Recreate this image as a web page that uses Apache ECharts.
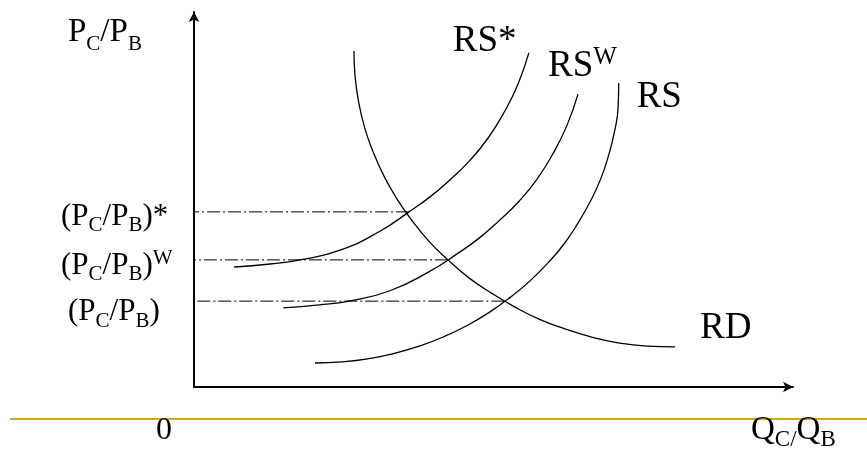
<!DOCTYPE html>
<html>
<head>
<meta charset="utf-8">
<style>
  html, body { margin: 0; padding: 0; background: #fff; }
  #chart { width: 867px; height: 455px; }
</style>
<script src="https://cdn.jsdelivr.net/npm/echarts@6/dist/echarts.min.js"></script>
</head>
<body>
<div id="chart"></div>
<script>
// curve points [Q_C/Q_B, P_C/P_B], axis units 0..100
const rd = [
  [26.7, 89.6], [26.9, 82.7], [27.5, 75.9], [28.5, 69.1], [29.9, 62.7],
  [31.7, 56.3], [33.9, 50.1], [36.1, 45.0], [39.2, 38.9], [42.4, 33.9],
  [45.9, 29.1], [49.6, 25.1], [53.6, 21.3], [57.6, 18.1], [61.9, 15.5],
  [66.4, 13.3], [71.0, 11.7], [75.6, 10.9], [80.3, 10.7]
]
const rsStar = [
  [6.7, 32.0], [12.7, 32.8], [17.7, 33.9], [24.4, 36.5], [31.1, 41.6],
  [35.9, 46.7], [39.4, 50.7], [42.7, 55.2], [46.1, 60.5], [49.1, 66.4],
  [51.9, 73.6], [54.1, 80.8], [55.9, 89.1]
]
const rsW = [
  [14.9, 21.1], [20.9, 21.9], [25.9, 22.9], [32.6, 25.6], [39.2, 30.7],
  [44.1, 35.7], [47.6, 39.7], [50.9, 44.3], [54.3, 49.6], [57.3, 55.5],
  [60.1, 62.7], [62.3, 69.9], [64.1, 78.1]
]
const rs = [
  [20.2, 6.4], [24.6, 6.7], [29.0, 7.5], [33.3, 8.9], [37.6, 10.9],
  [41.7, 13.4], [45.6, 16.4], [49.3, 19.9], [52.8, 23.9], [56.1, 28.3],
  [59.1, 33.1], [61.8, 38.2], [64.1, 43.7], [66.2, 49.6], [67.9, 55.5],
  [69.2, 61.7], [70.2, 68.1], [70.8, 74.5], [70.9, 81.1]
]

// equilibrium relative prices and where the guide lines stop
const priceLevels = [46.7, 33.9, 22.9]
const priceLineEnds = [35.9, 42.4, 51.8]
const priceLabels = [
  '{m|(P}{s|C}{m|/P}{s|B}{m|)*}',
  '{m|(P}{s|C}{m|/P}{s|B}{m|)}{u|W}',
  '{m|(P}{s|C}{m|/P}{s|B}{m|)}'
]

const serif = '"Liberation Serif", "Times New Roman", serif'

const chart = echarts.init(document.getElementById('chart'))

const curve = (name, data, label, offset) => ({
  name,
  type: 'line',
  data,
  smooth: true,
  showSymbol: false,
  symbol: 'none',
  z: 3,
  lineStyle: { color: '#000', width: 1.3 },
  endLabel: {
    show: true,
    distance: 0,
    offset,
    formatter: label,
    fontFamily: serif,
    fontSize: 37,
    color: '#000',
    rich: {
      m: { fontFamily: serif, fontSize: 37, color: '#000' },
      u: { fontFamily: serif, fontSize: 25, color: '#000', lineHeight: 25, padding: [0, 0, 18, 0] }
    }
  }
})

// dash-dot guide drawn from the curve crossing back to the price axis,
// so its end label sits at the axis
const guide = (i, offset) => ({
  type: 'line',
  data: [[priceLineEnds[i], priceLevels[i]], [0, priceLevels[i]]],
  showSymbol: false,
  symbol: 'none',
  z: 2,
  lineStyle: { color: '#000', width: 1, type: [13, 3, 2, 3] },
  endLabel: {
    show: true,
    distance: 0,
    offset,
    formatter: priceLabels[i],
    rich: {
      m: { fontFamily: serif, fontSize: 31, color: '#000', lineHeight: 30, padding: [6, 0, 0, 0] },
      s: { fontFamily: serif, fontSize: 21, color: '#000', lineHeight: 12, padding: [24, 0, 0, 0] },
      u: { fontFamily: serif, fontSize: 21, color: '#000', lineHeight: 12, padding: [0, 0, 9, 0] }
    }
  }
})

const option = {
  backgroundColor: '#fff',
  animation: false,
  grid: { left: 194, right: 74, top: 12, bottom: 68 },
  xAxis: {
    type: 'value',
    min: 0,
    max: 100,
    axisLine: { lineStyle: { color: '#000', width: 2 }, symbol: ['none', 'arrow'], symbolSize: [8, 10] },
    axisTick: { show: false },
    axisLabel: { show: false },
    splitLine: { show: false }
  },
  yAxis: {
    type: 'value',
    min: 0,
    max: 100,
    axisLine: { show: true, lineStyle: { color: '#000', width: 2 }, symbol: ['none', 'arrow'], symbolSize: [8, 10] },
    axisTick: { show: false },
    axisLabel: { show: false },
    splitLine: { show: false }
  },
  graphic: [
    {
      type: 'line',
      shape: { x1: 10, y1: 419, x2: 867, y2: 419 },
      style: { stroke: '#D9A521', lineWidth: 2 }
    },
    {
      type: 'text',
      x: 68, y: 15,
      style: {
        text: '{m|P}{s|C}{m|/P}{s|B}',
        rich: {
          m: { fontFamily: serif, fontSize: 33, fill: '#000', lineHeight: 34 },
          s: { fontFamily: serif, fontSize: 21, fill: '#000', lineHeight: 21, padding: [24, 0, 0, 0] }
        }
      }
    },
    {
      type: 'text',
      x: 156, y: 415,
      style: { text: '0', fontFamily: serif, fontSize: 32, fill: '#000' }
    },
    {
      type: 'text',
      x: 751, y: 413,
      style: {
        text: '{m|Q}{s|C/}{m|Q}{s|B}',
        rich: {
          m: { fontFamily: serif, fontSize: 33, fill: '#000', lineHeight: 34 },
          s: { fontFamily: serif, fontSize: 23, fill: '#000', lineHeight: 23, padding: [20, 0, 0, 0] }
        }
      }
    }
  ],
  series: [
    guide(0, [-133, 2]), guide(1, [-133, 3]), guide(2, [-126, 8]),
    curve('RD', rd, 'RD', [25, -19]),
    curve('RS*', rsStar, 'RS*', [-76, -12]),
    curve('RSW', rsW, '{m|RS}{u|W}', [-30, -28]),
    curve('RS', rs, 'RS', [18, 14])
  ]
}

chart.setOption(option)
</script>
</body>
</html>
